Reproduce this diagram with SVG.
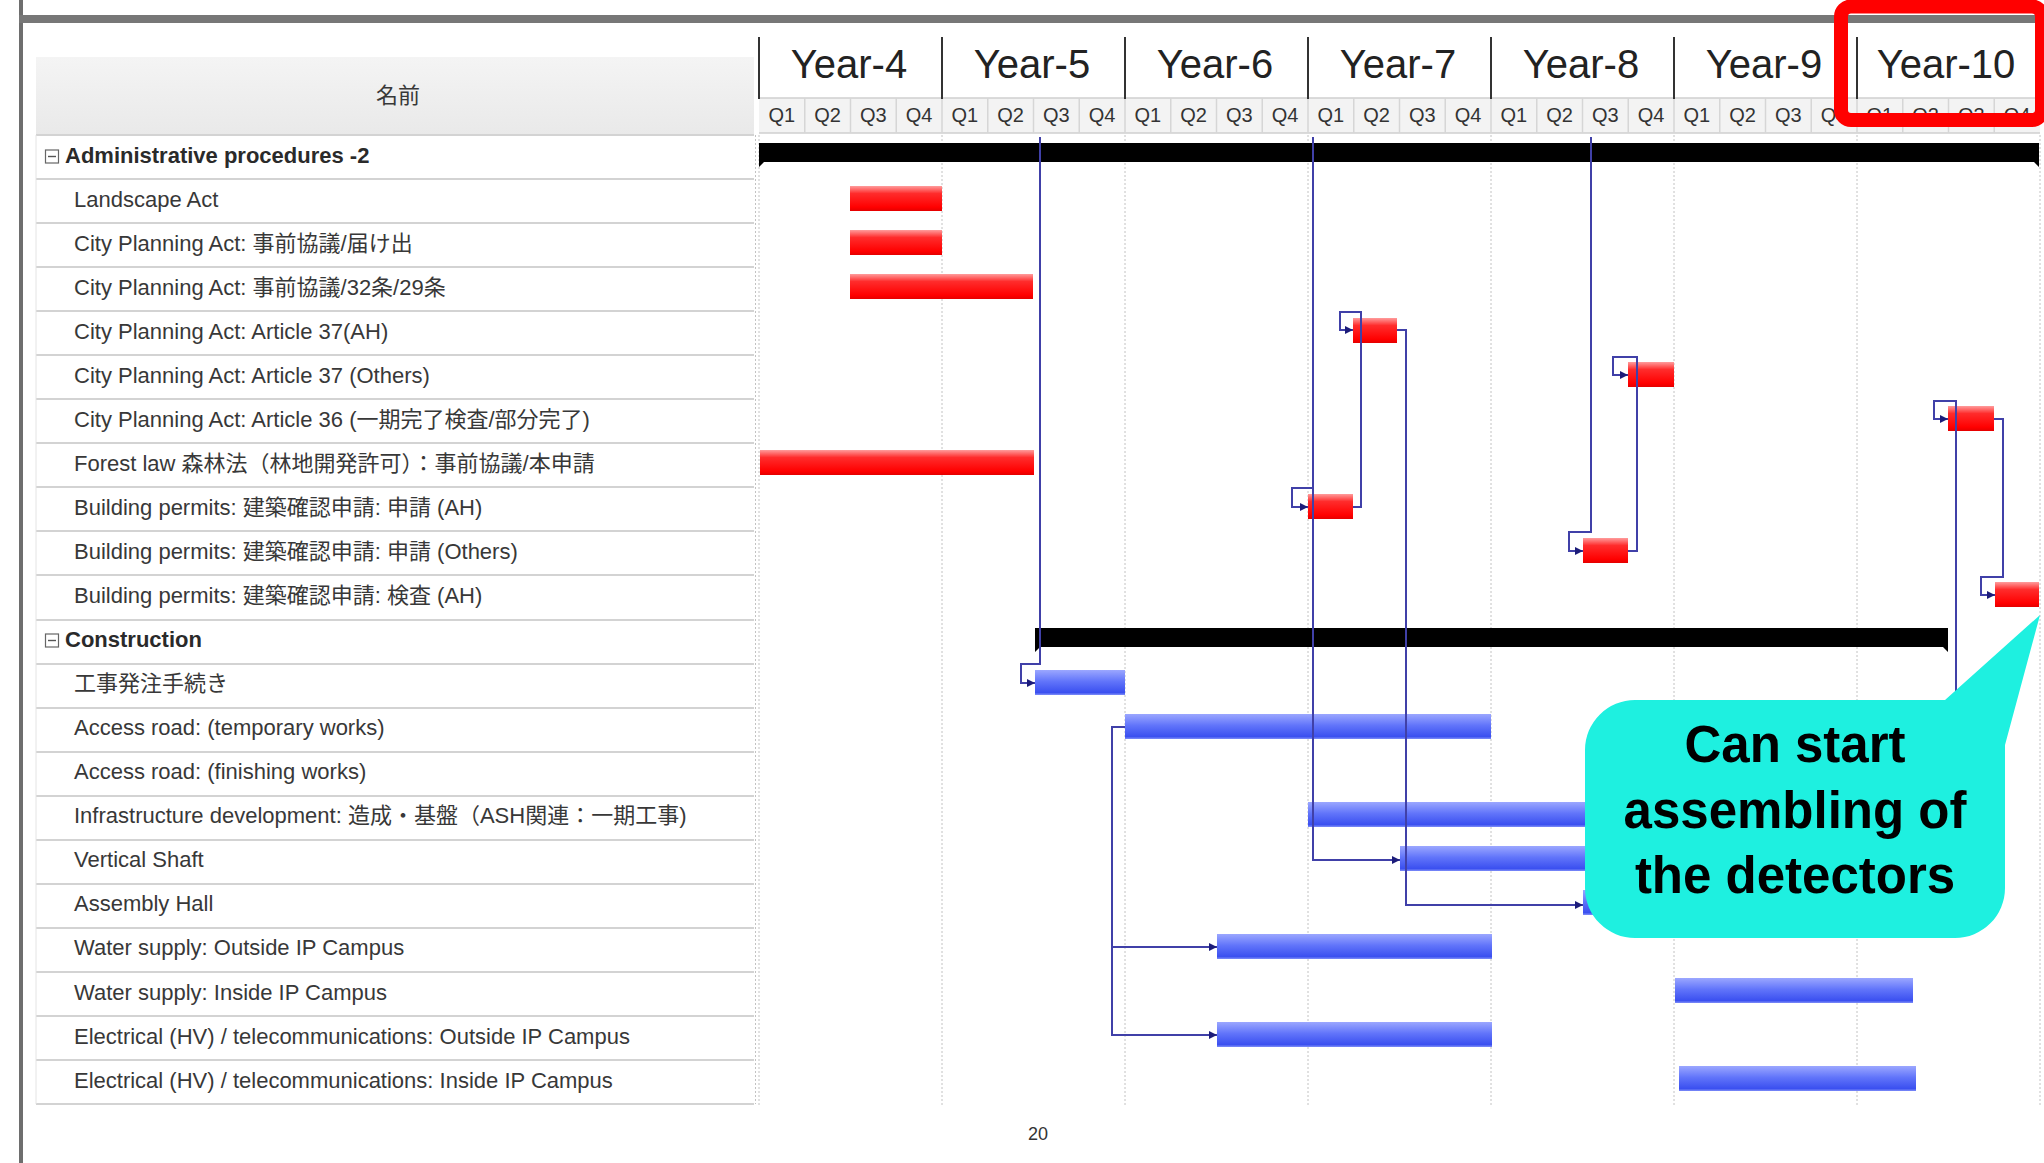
<svg xmlns="http://www.w3.org/2000/svg" width="2044" height="1163" viewBox="0 0 2044 1163">
<defs>
<linearGradient id="gRed" x1="0" y1="0" x2="0" y2="1">
<stop offset="0" stop-color="#ff9c9c"/>
<stop offset="0.3" stop-color="#ff2c2c"/>
<stop offset="0.85" stop-color="#ff0000"/>
<stop offset="1" stop-color="#e40000"/>
</linearGradient>
<linearGradient id="gBlue" x1="0" y1="0" x2="0" y2="1">
<stop offset="0" stop-color="#9ba7ff"/>
<stop offset="0.45" stop-color="#6275fa"/>
<stop offset="0.9" stop-color="#3b50f0"/>
<stop offset="1" stop-color="#7f8ef8"/>
</linearGradient>
<linearGradient id="gHead" x1="0" y1="0" x2="0" y2="1">
<stop offset="0" stop-color="#f4f4f4"/>
<stop offset="1" stop-color="#e9e9e9"/>
</linearGradient>
<marker id="arr" viewBox="0 0 8 8" refX="8" refY="4" markerWidth="8" markerHeight="8" orient="auto" markerUnits="userSpaceOnUse"><path d="M0,0 L8,4 L0,8 z" fill="#1c1c7a"/></marker>
</defs>
<style>
.t{font-family:"Liberation Sans","Noto Sans CJK JP",sans-serif;font-size:22px;fill:#383838}
.gt{font-weight:bold;fill:#2a2a2a}
.yr{font-family:"Liberation Sans",sans-serif;font-size:40px;fill:#222;text-anchor:middle}
.q{font-family:"Liberation Sans",sans-serif;font-size:20px;fill:#333;text-anchor:middle}
.sep{stroke:#d3d3d3;stroke-width:2;fill:none}
.grid{stroke:#c2c2c2;stroke-width:1;stroke-dasharray:2 2;fill:none}
.red{fill:url(#gRed)}
.blue{fill:url(#gBlue)}
.sum{fill:#000}
.lnk{fill:none;stroke:#3d3da6;stroke-width:2}
.lnka{fill:none;stroke:#4040a8;stroke-width:2;marker-end:url(#arr)}
.icon{fill:#fff;stroke:#666;stroke-width:1.2}
.co{font-family:"Liberation Sans",sans-serif;font-size:51px;font-weight:bold;fill:#000;text-anchor:middle}
</style>
<rect width="2044" height="1163" fill="#fff"/>

<!-- frame -->
<g id="frame">
<rect x="19" y="0" width="4" height="1163" fill="#6e6e6e"/>
<rect x="19" y="15" width="2025" height="8" fill="#777"/>
</g>

<!-- table header -->
<g id="table-header">
<rect x="36" y="57" width="718" height="78" fill="url(#gHead)"/>
<text class="t" x="398" y="103" text-anchor="middle" font-size="20">名前</text>
</g>

<!-- table separators -->
<g id="table-grid">
<path class="sep" d="M36,135H754M36,179H754M36,223H754M36,267H754M36,311H754M36,355H754M36,399H754M36,443H754M36,487H754M36,531H754M36,575H754M36,620H754M36,664H754M36,708H754M36,752H754M36,796H754M36,840H754M36,884H754M36,928H754M36,972H754M36,1016H754M36,1060H754M36,1104H754"/>
<path d="M36,135V1104" stroke="#e4e4e4" stroke-width="1"/>
<path class="grid" d="M755.5,135V1104"/>
</g>

<!-- chart header -->
<g id="chart-header">
<rect x="759" y="98" width="1281" height="35" fill="#f3f3f3"/>
<path d="M759,98H2040M759,133H2040" stroke="#d0d0d0" stroke-width="1.5"/>
<path stroke="#d6d6d6" stroke-width="1.5" d="M804.75,98V133M850.5,98V133M896.25,98V133M942,98V133M987.75,98V133M1033.5,98V133M1079.25,98V133M1125,98V133M1170.75,98V133M1216.5,98V133M1262.25,98V133M1308,98V133M1353.75,98V133M1399.5,98V133M1445.25,98V133M1491,98V133M1536.75,98V133M1582.5,98V133M1628.25,98V133M1674,98V133M1719.75,98V133M1765.5,98V133M1811.25,98V133M1857,98V133M1902.75,98V133M1948.5,98V133M1994.25,98V133"/>
<path stroke="#333" stroke-width="2" d="M759,37V99M942,37V99M1125,37V99M1308,37V99M1491,37V99M1674,37V99M1857,37V99"/>
<text class="yr" x="849" y="78">Year-4</text>
<text class="yr" x="1032" y="78">Year-5</text>
<text class="yr" x="1215" y="78">Year-6</text>
<text class="yr" x="1398" y="78">Year-7</text>
<text class="yr" x="1581" y="78">Year-8</text>
<text class="yr" x="1764" y="78">Year-9</text>
<text class="yr" x="1946" y="78">Year-10</text>
<g class="q">
<text x="781.9" y="122">Q1</text><text x="827.6" y="122">Q2</text><text x="873.4" y="122">Q3</text><text x="919.1" y="122">Q4</text>
<text x="964.9" y="122">Q1</text><text x="1010.6" y="122">Q2</text><text x="1056.4" y="122">Q3</text><text x="1102.1" y="122">Q4</text>
<text x="1147.9" y="122">Q1</text><text x="1193.6" y="122">Q2</text><text x="1239.4" y="122">Q3</text><text x="1285.1" y="122">Q4</text>
<text x="1330.9" y="122">Q1</text><text x="1376.6" y="122">Q2</text><text x="1422.4" y="122">Q3</text><text x="1468.1" y="122">Q4</text>
<text x="1513.9" y="122">Q1</text><text x="1559.6" y="122">Q2</text><text x="1605.4" y="122">Q3</text><text x="1651.1" y="122">Q4</text>
<text x="1696.9" y="122">Q1</text><text x="1742.6" y="122">Q2</text><text x="1788.4" y="122">Q3</text><text x="1834.1" y="122">Q4</text>
<text x="1879.9" y="122">Q1</text><text x="1925.6" y="122">Q2</text><text x="1971.4" y="122">Q3</text><text x="2017.1" y="122">Q4</text>
</g>
</g>

<!-- chart body grid -->
<g id="chart-grid">
<path class="grid" d="M759,135V1106M942,135V1106M1125,135V1106M1308,135V1106M1491,135V1106M1674,135V1106M1857,135V1106M2040,135V1106"/>
</g>

<!-- task rows -->
<g id="row-admin">
<rect class="icon" x="45.5" y="150" width="13" height="13"/><path d="M48,156.5H56" stroke="#555" stroke-width="1.4"/>
<text class="t gt" x="65" y="162.5">Administrative procedures -2</text>
<path class="sum" d="M759,143H2039V167L2034,162H764L759,167Z"/>
</g>
<g id="row-landscape">
<text class="t" x="74" y="206.6">Landscape Act</text>
<rect class="red" x="850" y="186" width="92" height="25"/>
</g>
<g id="row-cpa-todokede">
<text class="t" x="74" y="250.6">City Planning Act: 事前協議/届け出</text>
<rect class="red" x="850" y="230" width="92" height="25"/>
</g>
<g id="row-cpa-32-29">
<text class="t" x="74" y="294.7">City Planning Act: 事前協議/32条/29条</text>
<rect class="red" x="850" y="274" width="183" height="25"/>
</g>
<g id="row-cpa-37ah">
<text class="t" x="74" y="338.7">City Planning Act: Article 37(AH)</text>
<rect class="red" x="1353" y="318" width="44" height="25"/>
</g>
<g id="row-cpa-37others">
<text class="t" x="74" y="382.8">City Planning Act: Article 37 (Others)</text>
<rect class="red" x="1628" y="362" width="46" height="25"/>
</g>
<g id="row-cpa-36">
<text class="t" x="74" y="426.8">City Planning Act: Article 36 (一期完了検査/部分完了)</text>
<rect class="red" x="1948" y="406" width="46" height="25"/>
</g>
<g id="row-forest">
<text class="t" x="74" y="470.9">Forest law 森林法（林地開発許可）：事前協議/本申請</text>
<rect class="red" x="760" y="450" width="274" height="25"/>
</g>
<g id="row-bp-ah">
<text class="t" x="74" y="514.9">Building permits: 建築確認申請: 申請 (AH)</text>
<rect class="red" x="1308" y="494" width="45" height="25"/>
</g>
<g id="row-bp-others">
<text class="t" x="74" y="559">Building permits: 建築確認申請: 申請 (Others)</text>
<rect class="red" x="1583" y="538" width="45" height="25"/>
</g>
<g id="row-bp-inspect">
<text class="t" x="74" y="603">Building permits: 建築確認申請: 検査 (AH)</text>
<rect class="red" x="1995" y="582" width="44" height="25"/>
</g>
<g id="row-construction">
<rect class="icon" x="45.5" y="634" width="13" height="13"/><path d="M48,640.5H56" stroke="#555" stroke-width="1.4"/>
<text class="t gt" x="65" y="647.1">Construction</text>
<path class="sum" d="M1035,628H1948V652L1943,647H1040L1035,652Z"/>
</g>
<g id="row-order">
<text class="t" x="74" y="691.1">工事発注手続き</text>
<rect class="blue" x="1035" y="670" width="90" height="25"/>
</g>
<g id="row-access-temp">
<text class="t" x="74" y="735.2">Access road: (temporary works)</text>
<rect class="blue" x="1125" y="714" width="366" height="25"/>
</g>
<g id="row-access-fin">
<text class="t" x="74" y="779.2">Access road: (finishing works)</text>
</g>
<g id="row-infra">
<text class="t" x="74" y="823.3">Infrastructure development: 造成・基盤（ASH関連：一期工事)</text>
<rect class="blue" x="1308" y="802" width="420" height="25"/>
</g>
<g id="row-shaft">
<text class="t" x="74" y="867.3">Vertical Shaft</text>
<rect class="blue" x="1400" y="846" width="328" height="25"/>
</g>
<g id="row-assembly">
<text class="t" x="74" y="911.4">Assembly Hall</text>
<rect class="blue" x="1583" y="890" width="145" height="25"/>
</g>
<g id="row-water-out">
<text class="t" x="74" y="955.4">Water supply: Outside IP Campus</text>
<rect class="blue" x="1217" y="934" width="275" height="25"/>
</g>
<g id="row-water-in">
<text class="t" x="74" y="999.5">Water supply: Inside IP Campus</text>
<rect class="blue" x="1675" y="978" width="238" height="25"/>
</g>
<g id="row-elec-out">
<text class="t" x="74" y="1043.5">Electrical (HV) / telecommunications: Outside IP Campus</text>
<rect class="blue" x="1217" y="1022" width="275" height="25"/>
</g>
<g id="row-elec-in">
<text class="t" x="74" y="1087.6">Electrical (HV) / telecommunications: Inside IP Campus</text>
<rect class="blue" x="1679" y="1066" width="237" height="25"/>
</g>

<!-- connectors -->
<g id="connectors">
<path class="lnka" d="M1040,137V664H1021V683H1035"/>
<path class="lnka" d="M1313,137V488H1292V507H1308"/>
<path class="lnka" d="M1313,488V860H1400"/>
<path class="lnka" d="M1397,330H1406V905H1583"/>
<path class="lnka" d="M1353,507H1361V312H1340V330H1353"/>
<path class="lnka" d="M1591,137V532H1569V551H1583"/>
<path class="lnka" d="M1628,551H1637V357H1613V375H1628"/>
<path class="lnka" d="M1994,419H2003V577H1981V595H1995"/>
<path class="lnka" d="M1956,880V401H1934V419H1948"/>
<path class="lnka" d="M1125,727H1112V1035H1217"/>
<path class="lnka" d="M1112,947H1217"/>
</g>

<!-- callout -->
<g id="callout">
<path d="M1635,700H1945L2040,615L2005,745V888A50,50 0 0 1 1955,938H1635A50,50 0 0 1 1585,888V750A50,50 0 0 1 1635,700Z" fill="#1ef0e0"/>
<text class="co" x="1795" y="762">Can start</text>
<text class="co" x="1795" y="828">assembling of</text>
<text class="co" x="1795" y="893">the detectors</text>
</g>

<!-- highlight box -->
<rect x="1841" y="6.5" width="201" height="113.5" rx="10" fill="none" stroke="#ff0000" stroke-width="14"/>

<text x="1038" y="1140" font-family="Liberation Sans, sans-serif" font-size="18" fill="#333" text-anchor="middle">20</text>
</svg>
